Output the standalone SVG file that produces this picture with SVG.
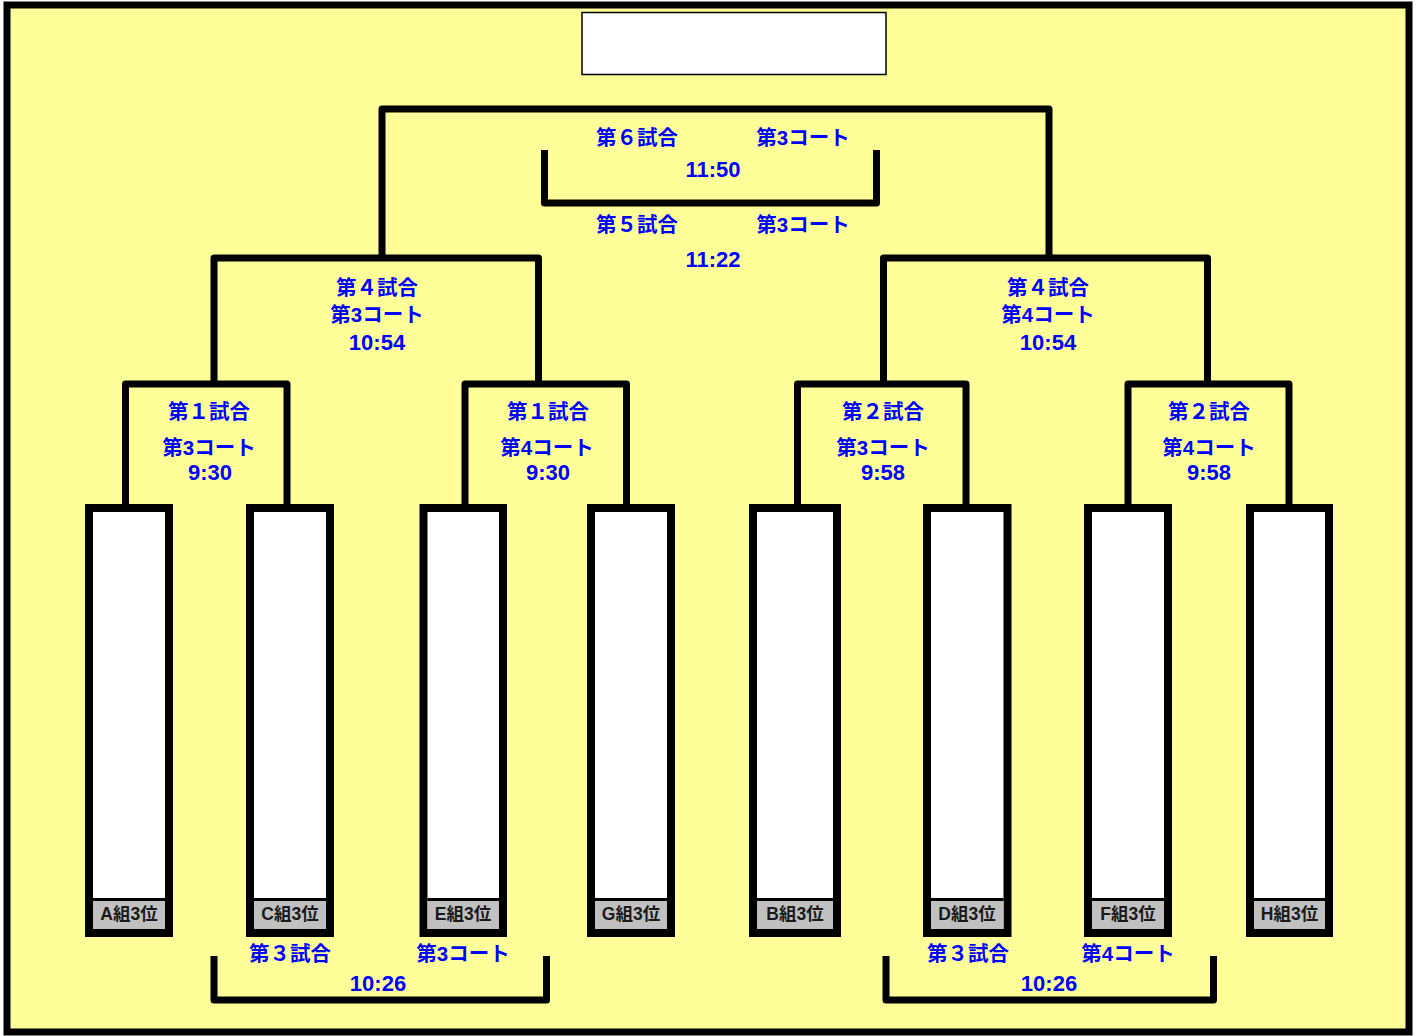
<svg xmlns="http://www.w3.org/2000/svg" width="1416" height="1036" viewBox="0 0 1416 1036">
<style>
.br{fill:none;stroke:#000;stroke-width:7;stroke-linejoin:round;stroke-linecap:butt}
.box{fill:#fff;stroke:#000;stroke-width:8}
.lab{fill:#c0c0c0}
.sep{stroke:#000;stroke-width:3}
.t{font-family:"Liberation Sans","Noto Sans CJK JP",sans-serif;font-weight:bold;font-size:20.5px;fill:#0000ff;text-anchor:middle;dominant-baseline:central}
.tm{font-family:"Liberation Sans","Noto Sans CJK JP",sans-serif;font-weight:bold;font-size:22px;fill:#0000ff;text-anchor:middle;dominant-baseline:central}
.g{font-family:"Liberation Sans","Noto Sans CJK JP",sans-serif;font-weight:bold;font-size:17.5px;fill:#1a1a1a;text-anchor:middle;dominant-baseline:central}
</style>
<rect x="7" y="5" width="1402" height="1027" fill="#ffff99" stroke="#000" stroke-width="7"/>
<rect id="title" x="582" y="12.5" width="304" height="62" fill="#fff" stroke="#000" stroke-width="1.5"/>
<g id="connectors">
<path class="br" d="M382,258 V109 H1049 V258"/>
<path class="br" d="M544.5,150 V203 H876.5 V150"/>
<path class="br" d="M214,384 V258 H538.5 V384"/>
<path class="br" d="M883.5,384 V258 H1207.5 V384"/>
<path class="br" d="M125.5,505 V384 H287 V505"/>
<path class="br" d="M465,505 V384 H626.5 V505"/>
<path class="br" d="M797.5,505 V384 H966 V505"/>
<path class="br" d="M1128,505 V384 H1289 V505"/>
<path class="br" d="M214,956 V1000 H546.5 V956"/>
<path class="br" d="M886,956 V1000 H1213.5 V956"/>
</g>
<g id="labels">
<text class="t" x="637" y="137">第６試合</text>
<text class="t" x="803" y="137">第3コート</text>
<text class="tm" x="713" y="169">11:50</text>
<text class="t" x="637" y="224">第５試合</text>
<text class="t" x="803" y="224">第3コート</text>
<text class="tm" x="713" y="259">11:22</text>
<text class="t" x="377" y="287">第４試合</text>
<text class="t" x="377" y="314">第3コート</text>
<text class="tm" x="377" y="342">10:54</text>
<text class="t" x="1048" y="287">第４試合</text>
<text class="t" x="1048" y="314">第4コート</text>
<text class="tm" x="1048" y="342">10:54</text>
<text class="t" x="209" y="411">第１試合</text>
<text class="t" x="209" y="447">第3コート</text>
<text class="tm" x="210" y="472">9:30</text>
<text class="t" x="548" y="411">第１試合</text>
<text class="t" x="547" y="447">第4コート</text>
<text class="tm" x="548" y="472">9:30</text>
<text class="t" x="883" y="411">第２試合</text>
<text class="t" x="883" y="447">第3コート</text>
<text class="tm" x="883" y="472">9:58</text>
<text class="t" x="1209" y="411">第２試合</text>
<text class="t" x="1209" y="447">第4コート</text>
<text class="tm" x="1209" y="472">9:58</text>
<text class="t" x="290" y="953">第３試合</text>
<text class="t" x="463" y="953">第3コート</text>
<text class="tm" x="378" y="983">10:26</text>
<text class="t" x="968" y="953">第３試合</text>
<text class="t" x="1128" y="953">第4コート</text>
<text class="tm" x="1049" y="983">10:26</text>
</g>
<g id="teamA"><rect class="box" x="89" y="508" width="80" height="425"/><rect class="lab" x="93" y="901" width="72" height="28"/><line class="sep" x1="93" y1="899.5" x2="165" y2="899.5"/><text class="g" x="129" y="914">A組3位</text></g>
<g id="teamC"><rect class="box" x="250" y="508" width="80" height="425"/><rect class="lab" x="254" y="901" width="72" height="28"/><line class="sep" x1="254" y1="899.5" x2="326" y2="899.5"/><text class="g" x="290" y="914">C組3位</text></g>
<g id="teamE"><rect class="box" x="423.5" y="508" width="79.5" height="425"/><rect class="lab" x="427.5" y="901" width="71.5" height="28"/><line class="sep" x1="427.5" y1="899.5" x2="499" y2="899.5"/><text class="g" x="463" y="914">E組3位</text></g>
<g id="teamG"><rect class="box" x="591" y="508" width="80" height="425"/><rect class="lab" x="595" y="901" width="72" height="28"/><line class="sep" x1="595" y1="899.5" x2="667" y2="899.5"/><text class="g" x="631" y="914">G組3位</text></g>
<g id="teamB"><rect class="box" x="753" y="508" width="84" height="425"/><rect class="lab" x="757" y="901" width="76" height="28"/><line class="sep" x1="757" y1="899.5" x2="833" y2="899.5"/><text class="g" x="795" y="914">B組3位</text></g>
<g id="teamD"><rect class="box" x="927" y="508" width="80.5" height="425"/><rect class="lab" x="931" y="901" width="72.5" height="28"/><line class="sep" x1="931" y1="899.5" x2="1003.5" y2="899.5"/><text class="g" x="967" y="914">D組3位</text></g>
<g id="teamF"><rect class="box" x="1088" y="508" width="80" height="425"/><rect class="lab" x="1092" y="901" width="72" height="28"/><line class="sep" x1="1092" y1="899.5" x2="1164" y2="899.5"/><text class="g" x="1128" y="914">F組3位</text></g>
<g id="teamH"><rect class="box" x="1250" y="508" width="79" height="425"/><rect class="lab" x="1254" y="901" width="71" height="28"/><line class="sep" x1="1254" y1="899.5" x2="1325" y2="899.5"/><text class="g" x="1289.5" y="914">H組3位</text></g>
</svg>
